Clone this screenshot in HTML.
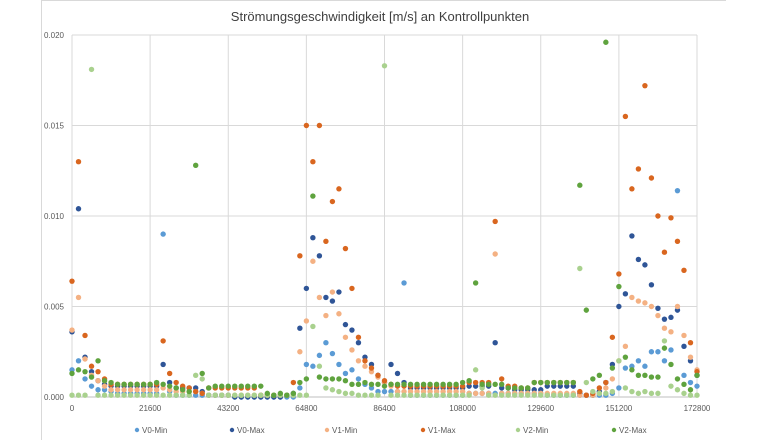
<!DOCTYPE html>
<html><head><meta charset="utf-8">
<style>
html,body{margin:0;padding:0;background:#fff;}
body{width:760px;height:440px;overflow:hidden;position:relative;font-family:"Liberation Sans",sans-serif;}
svg{position:absolute;left:0;top:0;}
</style></head>
<body>
<svg id="chart" width="760" height="440">
  <line x1="41" y1="0.5" x2="726" y2="0.5" stroke="#d9d9d9"/>
  <line x1="41.5" y1="0" x2="41.5" y2="440" stroke="#d9d9d9"/>
  <text x="380" y="21" text-anchor="middle" font-size="13" fill="#404040">Strömungsgeschwindigkeit [m/s] an Kontrollpunkten</text>
  <g id="grid"></g><g id="axes"></g><g id="marks"></g><g id="legend"></g>
</svg>
<script>
// time step between samples (s); values in units of 1e-4 m/s
const stepSeconds = 1800;
const valueUnit = 0.0001;
const xTicks = [0,21600,43200,64800,86400,108000,129600,151200,172800];
const yTicks = [0,0.005,0.010,0.015,0.020];
const yTickLabels = ["0.000","0.005","0.010","0.015","0.020"];
const seriesNames = ["V0-Min","V0-Max","V1-Min","V1-Max","V2-Min","V2-Max"];
const v0Min = [15,20,10,6,4,4,3,2,2,2, 2,2,2,2,90,3,1,1,1,1, 1,1,1,1,1,0,0,0,0,0, 0,0,0,0,0,5,18,17,23,30, 24,18,13,15,10,7,5,3,3,3, 3,63,1,1,1,1,1,1,1,1, 1,2,2,2,2,2,2,2,2,2, 2,2,2,1,1,1,1,1,1,1, 1,1,1,2,5,16,17,20,17,25, 25,20,26,114,12,8,6];
const v0Max = [36,104,22,14,9,7,6,6,6,6, 6,6,6,6,18,8,5,5,5,5, 3,1,1,1,1,0,0,0,0,0, 0,0,0,1,2,38,60,88,78,55, 53,58,40,37,30,22,18,12,8,18, 13,8,5,5,5,5,5,5,5,5, 5,6,6,6,6,30,5,5,4,4, 4,4,4,6,6,6,6,6,2,1, 1,3,8,18,50,57,89,76,73,62, 49,43,44,48,28,20,12];
const v1Min = [37,55,21,12,9,6,4,4,4,4, 4,4,4,4,5,4,3,3,3,3, 2,1,1,1,1,1,1,1,1,1, 1,1,1,1,1,25,42,75,55,45, 58,46,33,26,20,17,14,11,8,6, 3,3,3,3,3,3,3,3,3,3, 3,2,2,2,2,79,2,2,2,2, 2,2,2,2,2,2,2,2,1,1, 1,2,5,10,20,28,55,53,52,50, 45,38,36,50,34,22,15];
const v1Max = [64,130,34,17,14,10,7,7,7,7, 7,7,7,7,31,13,8,6,5,3, 2,5,5,5,5,5,5,5,5,1, 1,1,1,1,8,78,150,130,150,86, 108,115,82,60,33,20,16,12,9,7, 6,6,6,6,6,6,6,6,6,6, 6,8,8,8,8,97,10,6,6,5, 5,8,8,8,8,8,8,8,3,1, 2,5,8,33,68,155,115,126,172,121, 100,80,99,86,70,30,14];
const v2Min = [1,1,1,181,1,1,1,1,1,1, 1,1,1,1,1,1,1,1,1,12, 10,1,1,1,1,1,1,1,1,1, 1,1,1,1,1,1,1,39,17,5, 4,3,2,2,1,1,1,1,183,1, 1,1,1,1,1,1,1,1,1,1, 1,1,15,5,1,1,1,1,1,1, 1,1,1,1,1,1,1,1,71,8, 3,2,2,3,20,5,3,2,3,2, 2,31,6,4,2,1,1];
const v2Max = [13,15,14,11,20,9,8,7,7,7, 7,7,7,8,7,6,5,4,3,128, 13,5,6,6,6,6,6,6,6,6, 2,1,2,1,2,8,10,111,11,10, 10,10,9,7,7,8,7,7,6,7, 7,7,7,7,7,7,7,7,7,7, 8,9,63,7,7,7,7,5,5,5, 5,8,8,8,8,8,8,8,117,48, 10,12,196,16,61,22,15,12,12,11, 11,27,18,10,7,4,12];

const seriesData = [v0Min,v0Max,v1Min,v1Max,v2Min,v2Max];
const colors = ["#5B9BD5","#2F5597","#F4B183","#D9661F","#A9D18E","#5FA33E"];
const NS = "http://www.w3.org/2000/svg";
const X0=72, X1=697, Y0=397, Y1=35;
function xs(t){ return X0 + t/172800*(X1-X0); }
function ys(v){ return Y0 - v/0.020*(Y0-Y1); }
function mk(tag, attrs, parent){ const e=document.createElementNS(NS,tag); for(const k in attrs) e.setAttribute(k,attrs[k]); parent.appendChild(e); return e; }

const grid=document.getElementById('grid'), axes=document.getElementById('axes'), marks=document.getElementById('marks'), legend=document.getElementById('legend');
yTicks.forEach((v,i)=>{
  const y=ys(v);
  const l=mk('line',{x1:X0,x2:X1,y1:y,y2:y,stroke:i===0?'#bfbfbf':'#d9d9d9','stroke-width':1},grid);
  
  
  const t=mk('text',{x:64,y:y+3,'text-anchor':'end','font-size':8,fill:'#595959'},axes);
  t.textContent=yTickLabels[i];
  
  
});
xTicks.forEach(v=>{
  const x=xs(v);
  const l=mk('line',{x1:x,x2:x,y1:Y1,y2:Y0,stroke:'#d9d9d9','stroke-width':1},grid);
  
  
  const t=mk('text',{x:x,y:411,'text-anchor':'middle','font-size':8,fill:'#595959'},axes);
  t.textContent=String(v);
  
  
});
seriesData.forEach((arr,s)=>{
  const g=mk('g',{fill:colors[s]},marks);
  
  
  arr.forEach((v,i)=>{
    const c=mk('circle',{cx:xs(i*stepSeconds),cy:ys(v*valueUnit),r:2.7},g);
    
    
  });
});
const legendX=[137,232,327,423,518,614];
seriesNames.forEach((n,i)=>{
  const g=mk('g',{},legend);
  
  
  mk('circle',{cx:legendX[i],cy:430,r:2.2,fill:colors[i]},g);
  const t=mk('text',{x:legendX[i]+5,y:433,'font-size':8,fill:'#595959'},g);
  t.textContent=n;
});
</script>
</body></html>
